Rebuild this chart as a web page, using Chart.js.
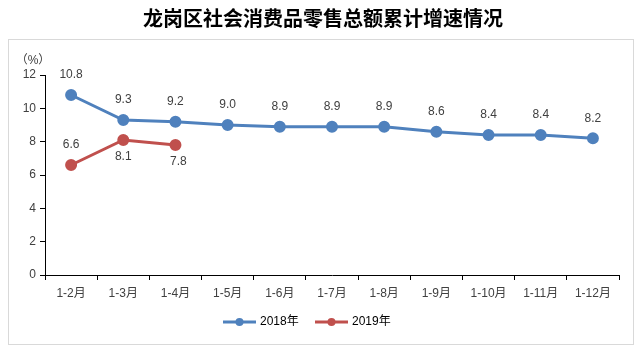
<!DOCTYPE html>
<html>
<head>
<meta charset="utf-8">
<script src="https://cdn.jsdelivr.net/npm/chart.js@4/dist/chart.umd.min.js"></script>
<style>
  html, body { margin: 0; padding: 0; background: #fff; }
  #wrap { width: 642px; height: 351px; position: relative; }
</style>
</head>
<body>
<div id="wrap"><canvas id="salesChart" width="642" height="351"></canvas></div>
<script>
// 龙岗区社会消费品零售总额累计增速
const months = ['1-2月', '1-3月', '1-4月', '1-5月', '1-6月', '1-7月', '1-8月', '1-9月', '1-10月', '1-11月', '1-12月'];
const growth2018 = [10.8, 9.3, 9.2, 9.0, 8.9, 8.9, 8.9, 8.6, 8.4, 8.4, 8.2];
const growth2019 = [6.6, 8.1, 7.8];
const yTicks = [0, 2, 4, 6, 8, 10, 12];

const FONT = '"Liberation Sans", "Noto Sans CJK SC", sans-serif';
const BLUE = '#4F81BD';
const RED = '#C0504D';
const TEXT = '#404040';

// 2019 标签位置：上 / 下
const pos2019 = ['above', 'below', 'below'];

// 边框、标题、单位、数据标签、图例
const decorPlugin = {
    id: 'decor',
    beforeDraw(chart) {
        const ctx = chart.ctx;
        ctx.save();
        ctx.fillStyle = '#fff';
        ctx.fillRect(0, 0, chart.width, chart.height);
        ctx.strokeStyle = '#d9d9d9';
        ctx.lineWidth = 1;
        ctx.strokeRect(8.5, 39.5, 625, 305);
        ctx.fillStyle = '#000';
        ctx.font = 'bold 20px "Noto Sans CJK SC", sans-serif';
        ctx.textAlign = 'center';
        ctx.textBaseline = 'middle';
        ctx.fillText('龙岗区社会消费品零售总额累计增速情况', 323, 18);
        ctx.fillStyle = TEXT;
        ctx.font = '12px ' + FONT;
        ctx.fillText('（%）', 33, 61);
        ctx.restore();
    },
    afterDatasetsDraw(chart) {
        const ctx = chart.ctx;
        ctx.save();
        ctx.font = '12px ' + FONT;
        ctx.fillStyle = TEXT;
        ctx.textAlign = 'center';
        ctx.textBaseline = 'middle';
        chart.getDatasetMeta(0).data.forEach((pt, i) => {
            ctx.fillText(growth2018[i].toFixed(1), pt.x, pt.y - 20);
        });
        chart.getDatasetMeta(1).data.forEach((pt, i) => {
            const dy = pos2019[i] === 'above' ? -20 : 17;
            const dx = i === 2 ? 3 : 0;
            ctx.fillText(growth2019[i].toFixed(1), pt.x + dx, pt.y + dy);
        });

        // 图例
        const items = [['2018年', BLUE, 223], ['2019年', RED, 315]];
        items.forEach(([label, color, x]) => {
            const y = 322;
            ctx.strokeStyle = color;
            ctx.lineWidth = 3;
            ctx.beginPath();
            ctx.moveTo(x, y);
            ctx.lineTo(x + 33, y);
            ctx.stroke();
            ctx.fillStyle = color;
            ctx.beginPath();
            ctx.arc(x + 16.5, y, 4, 0, Math.PI * 2);
            ctx.fill();
            ctx.fillStyle = '#000';
            ctx.textAlign = 'left';
            ctx.fillText(label, x + 37, y);
        });
        ctx.restore();
    }
};

new Chart(document.getElementById('salesChart'), {
    type: 'line',
    data: {
        labels: months,
        datasets: [
            {
                label: '2018年',
                data: growth2018,
                borderColor: BLUE,
                backgroundColor: BLUE,
                borderWidth: 3,
                pointRadius: 4.5,
                pointHoverRadius: 4.5,
                tension: 0
            },
            {
                label: '2019年',
                data: growth2019,
                borderColor: RED,
                backgroundColor: RED,
                borderWidth: 3,
                pointRadius: 4.5,
                pointHoverRadius: 4.5,
                tension: 0
            }
        ]
    },
    options: {
        responsive: false,
        animation: false,
        layout: { padding: { left: 0, right: 23, top: 75, bottom: 0 } },
        plugins: {
            legend: { display: false },
            title: { display: false },
            tooltip: { enabled: false }
        },
        scales: {
            x: {
                offset: true,
                grid: { offset: true, drawOnChartArea: false, drawTicks: true, tickLength: 5, color: '#000' },
                border: { color: '#000', width: 1 },
                ticks: { color: TEXT, font: { family: FONT, size: 12 }, padding: 6, maxRotation: 0 },
                afterFit(scale) { scale.height = 76; }
            },
            y: {
                min: 0,
                max: 12,
                afterBuildTicks(scale) { scale.ticks = yTicks.map(v => ({ value: v })); },
                grid: { drawOnChartArea: false, drawTicks: true, tickLength: 5, color: '#000' },
                border: { color: '#000', width: 1 },
                ticks: { color: TEXT, font: { family: FONT, size: 12 }, padding: 4 },
                afterFit(scale) { scale.width = 45; }
            }
        }
    },
    plugins: [decorPlugin]
});
</script>
</body>
</html>
